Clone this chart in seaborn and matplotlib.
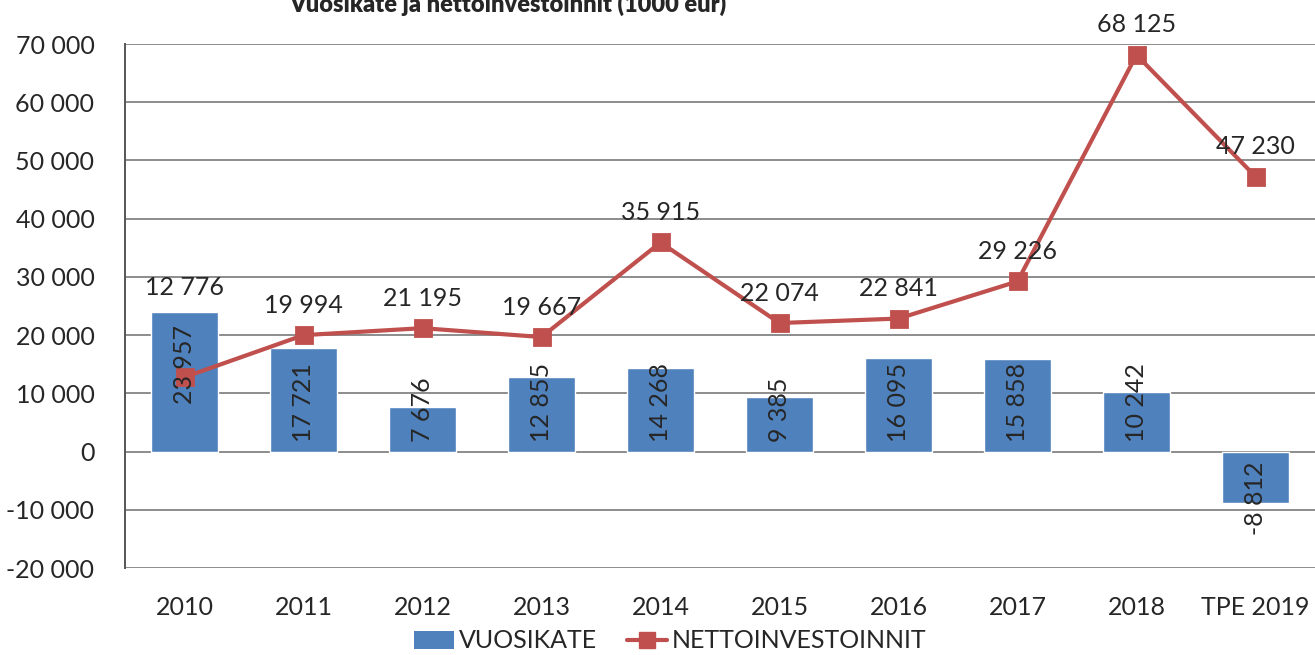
import matplotlib
matplotlib.use("Agg")
import matplotlib.pyplot as plt
from matplotlib.ticker import FuncFormatter, MultipleLocator
from matplotlib.lines import Line2D
from matplotlib.patches import Patch
import seaborn as sns
import pandas as pd

# Data (1000 eur)
years = ["2010", "2011", "2012", "2013", "2014", "2015", "2016", "2017", "2018", "TPE 2019"]
vuosikate = [23957, 17721, 7676, 12855, 14268, 9385, 16095, 15858, 10242, -8812]
nettoinvestoinnit = [12776, 19994, 21195, 19667, 35915, 22074, 22841, 29226, 68125, 47230]

BAR_COLOR = "#4F81BD"
LINE_COLOR = "#C0504D"


def fmt_num(v):
    s = f"{abs(int(v)):,}".replace(",", " ")
    return ("-" + s) if v < 0 else s


df = pd.DataFrame({"year": years, "vuosikate": vuosikate,
                   "netto": nettoinvestoinnit})

sns.set_style("white")
plt.rcParams["font.family"] = ["Lato", "DejaVu Sans"]

fig = plt.figure(figsize=(13.15, 6.55), dpi=100)
ax = fig.add_axes([125 / 1315, 1 - 568 / 655, 1 - 125 / 1315, (568 - 44) / 655])

# Bars
sns.barplot(data=df, x="year", y="vuosikate", color=BAR_COLOR, width=0.56,
            saturation=1, ax=ax, zorder=2)

# Line
sns.pointplot(data=df, x="year", y="netto", color=LINE_COLOR, markers="s",
              linestyles="-", ax=ax, zorder=3)
for ln in ax.lines:
    ln.set_linewidth(3)
    ln.set_markersize(11)
    ln.set_zorder(3)

ax.set_xlim(-0.5, len(years) - 0.5)
ax.set_ylim(-20000, 70000)
ax.yaxis.set_major_locator(MultipleLocator(10000))
ax.yaxis.set_major_formatter(FuncFormatter(lambda v, p: fmt_num(v)))
ax.grid(axis="y", color="#8C8C8C", linewidth=1.4, zorder=0)
ax.set_axisbelow(True)
ax.set_xlabel("")
ax.set_ylabel("")

for side in ["top", "right", "bottom"]:
    ax.spines[side].set_visible(False)
ax.spines["left"].set_color("#555555")
ax.spines["left"].set_linewidth(1.4)

ax.tick_params(axis="y", length=0, pad=22, labelsize=18)
ax.tick_params(axis="x", length=0, pad=20, labelsize=18)

# Bar labels: rotated, starting near the base of each bar
bar_shift = {0: 38}  # first label was moved up in the original
for i, v in enumerate(vuosikate):
    off = 10 + bar_shift.get(i, 0)
    if v >= 0:
        ax.annotate(fmt_num(v), (i, 0), xytext=(0, off), textcoords="offset pixels",
                    rotation=90, ha="center", va="bottom", fontsize=18, zorder=4)
    else:
        ax.annotate(fmt_num(v), (i, 0), xytext=(0, -off), textcoords="offset pixels",
                    rotation=90, ha="center", va="top", fontsize=18, zorder=4)

# Line labels above the points
line_shift = {0: 60}
for i, v in enumerate(nettoinvestoinnit):
    off = 30 + line_shift.get(i, 0)
    ax.annotate(fmt_num(v), (i, v), xytext=(0, off), textcoords="offset pixels",
                ha="center", va="center", fontsize=18, zorder=4)

# Title (partly cut off at the top, as in the reference)
fig.text(508 / 1315, 1 - 12 / 655, "Vuosikate ja nettoinvestoinnit (1000 eur)",
         ha="center", va="baseline", fontsize=17, fontweight="heavy")

handles = [
    Patch(facecolor=BAR_COLOR, edgecolor="none", label="VUOSIKATE"),
    Line2D([0], [0], color=LINE_COLOR, linewidth=3, marker="s", markersize=11,
           label="NETTOINVESTOINNIT"),
]
fig.legend(handles=handles, loc="center", bbox_to_anchor=(670 / 1315, 1 - 641 / 655),
           ncol=2, frameon=False, fontsize=18, handlelength=1.6, handletextpad=0.2,
           columnspacing=1.2, borderpad=0)

fig.savefig("out.png", dpi=100)
